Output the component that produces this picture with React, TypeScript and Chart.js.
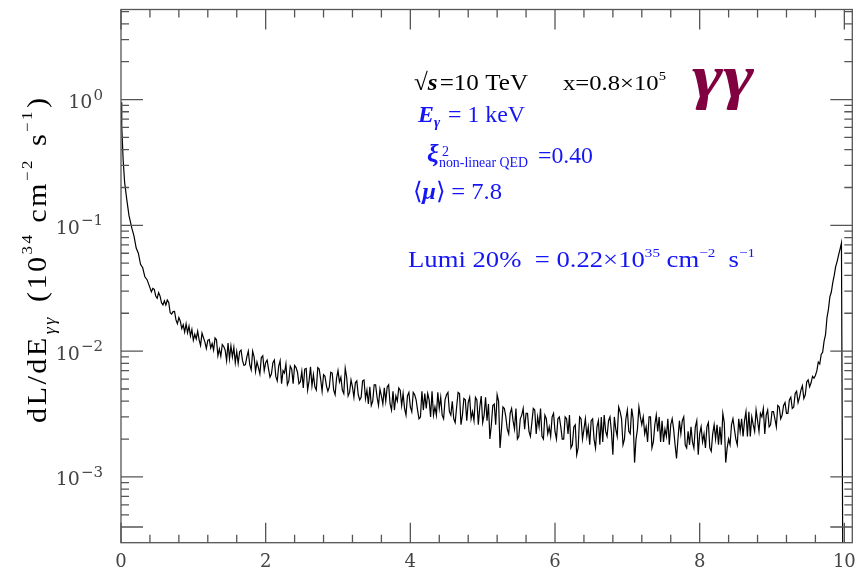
import React, { useEffect, useRef } from "react";
import { Chart, registerables } from "chart.js";

Chart.register(...registerables);

// Photon energy E_gamma-gamma (x axis) — bin positions
const photonEnergy = [
  0, 0.01, 0.02, 0.03, 0.05, 0.08, 0.11, 0.15, 0.18, 0.21, 0.24, 0.27, 0.30, 0.33, 0.36, 0.40,
  0.42, 0.44, 0.46, 0.48, 0.50, 0.52, 0.54, 0.56, 0.58, 0.60, 0.62, 0.64, 0.66, 0.68, 0.70, 0.72, 0.74, 0.76, 0.78, 0.80,
  0.82, 0.84, 0.86, 0.88, 0.90, 0.92, 0.94, 0.96, 0.98, 1.00, 1.02, 1.04, 1.06, 1.08, 1.10, 1.12, 1.14, 1.16, 1.18, 1.20,
  1.22, 1.24, 1.26, 1.28, 1.30, 1.32, 1.34, 1.36, 1.38, 1.40, 1.42, 1.44, 1.46, 1.48, 1.50, 1.52, 1.54, 1.56, 1.58, 1.60,
  1.62, 1.64, 1.66, 1.68, 1.70, 1.72, 1.74, 1.76, 1.78, 1.80, 1.82, 1.84, 1.86, 1.88, 1.90, 1.92, 1.94, 1.96, 1.98, 2.00,
  2.02, 2.04, 2.06, 2.08, 2.10, 2.12, 2.14, 2.16, 2.18, 2.20, 2.22, 2.24, 2.26, 2.28, 2.30, 2.32, 2.34, 2.36, 2.38, 2.40,
  2.42, 2.44, 2.46, 2.48, 2.50, 2.52, 2.54, 2.56, 2.58, 2.60, 2.62, 2.64, 2.66, 2.68, 2.70, 2.72, 2.74, 2.76, 2.78, 2.80,
  2.82, 2.84, 2.86, 2.88, 2.90, 2.92, 2.94, 2.96, 2.98, 3.00, 3.02, 3.04, 3.06, 3.08, 3.10, 3.12, 3.14, 3.16, 3.18, 3.20,
  3.22, 3.24, 3.26, 3.28, 3.30, 3.32, 3.34, 3.36, 3.38, 3.40, 3.42, 3.44, 3.46, 3.48, 3.50, 3.52, 3.54, 3.56, 3.58, 3.60,
  3.62, 3.64, 3.66, 3.68, 3.70, 3.72, 3.74, 3.76, 3.78, 3.80, 3.82, 3.84, 3.86, 3.88, 3.90, 3.92, 3.94, 3.96, 3.98, 4.00,
  4.02, 4.04, 4.06, 4.08, 4.10, 4.12, 4.14, 4.16, 4.18, 4.20, 4.22, 4.24, 4.26, 4.28, 4.30, 4.32, 4.34, 4.36, 4.38, 4.40,
  4.42, 4.44, 4.46, 4.48, 4.50, 4.52, 4.54, 4.56, 4.58, 4.60, 4.62, 4.64, 4.66, 4.68, 4.70, 4.72, 4.74, 4.76, 4.78, 4.80,
  4.82, 4.84, 4.86, 4.88, 4.90, 4.92, 4.94, 4.96, 4.98, 5.00, 5.02, 5.04, 5.06, 5.08, 5.10, 5.12, 5.14, 5.16, 5.18, 5.20,
  5.22, 5.24, 5.26, 5.28, 5.30, 5.32, 5.34, 5.36, 5.38, 5.40, 5.42, 5.44, 5.46, 5.48, 5.50, 5.52, 5.54, 5.56, 5.58, 5.60,
  5.62, 5.64, 5.66, 5.68, 5.70, 5.72, 5.74, 5.76, 5.78, 5.80, 5.82, 5.84, 5.86, 5.88, 5.90, 5.92, 5.94, 5.96, 5.98, 6.00,
  6.02, 6.04, 6.06, 6.08, 6.10, 6.12, 6.14, 6.16, 6.18, 6.20, 6.22, 6.24, 6.26, 6.28, 6.30, 6.32, 6.34, 6.36, 6.38, 6.40,
  6.42, 6.44, 6.46, 6.48, 6.50, 6.52, 6.54, 6.56, 6.58, 6.60, 6.62, 6.64, 6.66, 6.68, 6.70, 6.72, 6.74, 6.76, 6.78, 6.80,
  6.82, 6.84, 6.86, 6.88, 6.90, 6.92, 6.94, 6.96, 6.98, 7.00, 7.02, 7.04, 7.06, 7.08, 7.10, 7.12, 7.14, 7.16, 7.18, 7.20,
  7.22, 7.24, 7.26, 7.28, 7.30, 7.32, 7.34, 7.36, 7.38, 7.40, 7.42, 7.44, 7.46, 7.48, 7.50, 7.52, 7.54, 7.56, 7.58, 7.60,
  7.62, 7.64, 7.66, 7.68, 7.70, 7.72, 7.74, 7.76, 7.78, 7.80, 7.82, 7.84, 7.86, 7.88, 7.90, 7.92, 7.94, 7.96, 7.98, 8.00,
  8.02, 8.04, 8.06, 8.08, 8.10, 8.12, 8.14, 8.16, 8.18, 8.20, 8.22, 8.24, 8.26, 8.28, 8.30, 8.32, 8.34, 8.36, 8.38, 8.40,
  8.42, 8.44, 8.46, 8.48, 8.50, 8.52, 8.54, 8.56, 8.58, 8.60, 8.62, 8.64, 8.66, 8.68, 8.70, 8.72, 8.74, 8.76, 8.78, 8.80,
  8.82, 8.84, 8.86, 8.88, 8.90, 8.92, 8.94, 8.96, 8.98, 9.00, 9.02, 9.04, 9.06, 9.08, 9.10, 9.12, 9.14, 9.16, 9.18, 9.20,
  9.22, 9.24, 9.26, 9.28, 9.30, 9.32, 9.34, 9.36, 9.38, 9.40, 9.42, 9.44, 9.46, 9.48, 9.50, 9.52, 9.54, 9.56, 9.58, 9.60,
  9.62, 9.64, 9.66, 9.68, 9.70, 9.72, 9.74, 9.76, 9.78, 9.80, 9.82, 9.84, 9.86, 9.88, 9.90, 9.92, 9.94, 9.96,
  9.995,
];

// dL/dE (10^34 cm^-2 s^-1)
const luminosity = [
  0.95, 0.62, 0.45, 0.33, 0.22, 0.16, 0.12, 0.095, 0.082, 0.066, 0.060, 0.049, 0.046, 0.039, 0.037, 0.032,
  0.0296, 0.0315, 0.0310, 0.0274, 0.0263, 0.0292, 0.0274, 0.0242, 0.0233, 0.0251, 0.0233, 0.0255, 0.0244, 0.0202, 0.0197, 0.0206, 0.0207, 0.0177, 0.0165, 0.0185,
  0.0173, 0.0151, 0.0162, 0.0142, 0.0165, 0.0140, 0.0158, 0.0132, 0.0149, 0.0122, 0.0136, 0.0125, 0.0144, 0.0123, 0.0111, 0.0139, 0.0128, 0.0118, 0.0105, 0.0122,
  0.0124, 0.0106, 0.0115, 0.0102, 0.0127, 0.0123, 0.0092, 0.0104, 0.0091, 0.0113, 0.0109, 0.0102, 0.0084, 0.0116, 0.0087, 0.0110, 0.0090, 0.0107, 0.0081, 0.0099,
  0.0080, 0.0099, 0.0102, 0.0084, 0.0077, 0.0078, 0.0090, 0.0100, 0.0078, 0.0071, 0.0100, 0.0090, 0.0069, 0.0082, 0.0074, 0.0066, 0.0089, 0.0092, 0.0070, 0.0081,
  0.0085, 0.0072, 0.0062, 0.0066, 0.0081, 0.0085, 0.0063, 0.0058, 0.0076, 0.0084, 0.0055, 0.0070, 0.0067, 0.0079, 0.0054, 0.0058, 0.0076, 0.0072, 0.0055, 0.0077,
  0.0074, 0.0068, 0.0055, 0.0057, 0.0069, 0.0051, 0.0072, 0.0073, 0.0049, 0.0058, 0.0075, 0.0053, 0.0065, 0.0052, 0.0049, 0.0074, 0.0072, 0.0060, 0.0048, 0.0065,
  0.0063, 0.0053, 0.0048, 0.0052, 0.0068, 0.0067, 0.0049, 0.0045, 0.0061, 0.0070, 0.0057, 0.0062, 0.0049, 0.0046, 0.0073, 0.0062, 0.0044, 0.0047, 0.0059, 0.0052,
  0.0043, 0.0056, 0.0058, 0.0045, 0.0041, 0.0043, 0.0058, 0.0059, 0.0042, 0.0049, 0.0038, 0.0052, 0.0037, 0.0040, 0.0054, 0.0054, 0.0043, 0.0037, 0.0050, 0.0044,
  0.0038, 0.0051, 0.0040, 0.0052, 0.0054, 0.0038, 0.0034, 0.0048, 0.0034, 0.0044, 0.0040, 0.0051, 0.0049, 0.0037, 0.0046, 0.0035, 0.0031, 0.0044, 0.0047, 0.0036,
  0.0033, 0.0047, 0.0045, 0.0041, 0.0034, 0.0029, 0.0030, 0.0048, 0.0034, 0.0046, 0.0035, 0.0046, 0.0041, 0.0030, 0.0048, 0.0031, 0.0036, 0.0031, 0.0047, 0.0035,
  0.0043, 0.0031, 0.0029, 0.0041, 0.0045, 0.0047, 0.0033, 0.0031, 0.0040, 0.0029, 0.0027, 0.0036, 0.0047, 0.0046, 0.0026, 0.0031, 0.0042, 0.0041, 0.0028, 0.0039,
  0.0043, 0.0029, 0.0033, 0.0028, 0.0043, 0.0041, 0.0026, 0.0036, 0.0044, 0.0027, 0.0031, 0.0043, 0.0028, 0.0038, 0.0020, 0.0026, 0.0037, 0.0038, 0.0026, 0.0045,
  0.0040, 0.0017, 0.0024, 0.0036, 0.0035, 0.0030, 0.0024, 0.0022, 0.0032, 0.0035, 0.0028, 0.0024, 0.0035, 0.0020, 0.0021, 0.0029, 0.0031, 0.0035, 0.0024, 0.0032,
  0.0032, 0.0023, 0.0021, 0.0027, 0.0035, 0.0034, 0.0022, 0.0030, 0.0025, 0.0035, 0.0021, 0.0020, 0.0031, 0.0029, 0.0022, 0.0025, 0.0021, 0.0030, 0.0032, 0.0023,
  0.0020, 0.0029, 0.0030, 0.0025, 0.0020, 0.0020, 0.0030, 0.0029, 0.0022, 0.0031, 0.0017, 0.0018, 0.0025, 0.0026, 0.0015, 0.0017, 0.0030, 0.0029, 0.0020, 0.0024,
  0.0029, 0.0021, 0.0025, 0.0018, 0.0028, 0.0029, 0.0020, 0.0017, 0.0025, 0.0028, 0.0018, 0.0030, 0.0019, 0.0031, 0.0023, 0.0021, 0.0028, 0.0030, 0.0023, 0.0015,
  0.0030, 0.0024, 0.0021, 0.0036, 0.0033, 0.0029, 0.0018, 0.0020, 0.0029, 0.0034, 0.0023, 0.0022, 0.0035, 0.0029, 0.0013, 0.0020, 0.0024, 0.0036, 0.0030, 0.0026,
  0.0030, 0.0022, 0.0025, 0.0019, 0.0030, 0.0030, 0.0017, 0.0019, 0.0026, 0.0031, 0.0023, 0.0030, 0.0019, 0.0028, 0.0019, 0.0024, 0.0021, 0.0029, 0.0018, 0.0026,
  0.0029, 0.0024, 0.0018, 0.0014, 0.0020, 0.0028, 0.0022, 0.0028, 0.0030, 0.0018, 0.0017, 0.0023, 0.0018, 0.0025, 0.0019, 0.0017, 0.0025, 0.0028, 0.0015, 0.0022,
  0.0025, 0.0019, 0.0022, 0.0017, 0.0025, 0.0027, 0.0017, 0.0016, 0.0022, 0.0026, 0.0020, 0.0026, 0.0018, 0.0025, 0.0018, 0.0032, 0.0027, 0.0013, 0.0017, 0.0020,
  0.0018, 0.0026, 0.0029, 0.0024, 0.0020, 0.0018, 0.0029, 0.0023, 0.0029, 0.0021, 0.0028, 0.0033, 0.0021, 0.0033, 0.0021, 0.0030, 0.0026, 0.0023, 0.0034, 0.0028,
  0.0023, 0.0032, 0.0030, 0.0035, 0.0022, 0.0031, 0.0034, 0.0025, 0.0026, 0.0033, 0.0033, 0.0029, 0.0025, 0.0037, 0.0036, 0.0029, 0.0031, 0.0037, 0.0039, 0.0032,
  0.0032, 0.0041, 0.0043, 0.0035, 0.0036, 0.0046, 0.0048, 0.0039, 0.0043, 0.0049, 0.0053, 0.0042, 0.0045, 0.0057, 0.0059, 0.0052, 0.0056, 0.0063, 0.0061, 0.0064,
  0.0070, 0.0082, 0.0079, 0.0094, 0.0098, 0.0120, 0.0135, 0.0185, 0.0215, 0.0270, 0.0295, 0.0350, 0.0400, 0.0470, 0.0515, 0.0580, 0.0645, 0.0725,
  0.000001,
];

// Axis ticks
const xMajorTicks = [0, 2, 4, 6, 8, 10];
const xTickLabels = ["0", "2", "4", "6", "8", "10"];
const xMinorStep = 0.4;
const yDecadeExponents = [0, -1, -2, -3];
const yTickExponentLabels = ["0", "\u22121", "\u22122", "\u22123"];
const yLongTickValues = [1, 0.1, 0.01, 0.001, 0.0004];

const X_MIN = 0;
const X_MAX = 10.11;
const Y_MIN = 3.38e-4;
const Y_MAX = 5.2;

const SERIF = '"Liberation Serif", "Times New Roman", serif';
const TICKFONT = '"DejaVu Serif", serif';
const BLUE = "#1515f5";
const FRAME = "#555555";

type Seg = { t: string; f: string; c?: string; dy?: number; dx?: number };

function segsWidth(ctx: CanvasRenderingContext2D, segs: Seg[]) {
  let w = 0;
  for (const s of segs) {
    ctx.font = s.f;
    w += ctx.measureText(s.t).width + (s.dx || 0);
  }
  return w;
}

// Draws rich text; if targetWidth is given, the text is stretched (up to maxScale)
// and any remaining width is spread between the characters.
function drawSegs(
  ctx: CanvasRenderingContext2D,
  x: number,
  y: number,
  segs: Seg[],
  color: string,
  targetWidth?: number,
  maxScale = 1.3
) {
  ctx.save();
  ctx.translate(x, y);
  let spacing = 0;
  if (targetWidth) {
    const w = segsWidth(ctx, segs);
    const s = Math.min(targetWidth / w, maxScale);
    ctx.scale(s, 1);
    const nChars = segs.reduce((n, sg) => n + Array.from(sg.t).length, 0);
    if (nChars > 1) spacing = Math.max(0, (targetWidth / s - w) / (nChars - 1));
  }
  ctx.textBaseline = "alphabetic";
  ctx.textAlign = "left";
  let cx = 0;
  for (const sg of segs) {
    ctx.font = sg.f;
    ctx.fillStyle = sg.c || color;
    cx += sg.dx || 0;
    if (spacing > 0) {
      for (const ch of Array.from(sg.t)) {
        ctx.fillText(ch, cx, sg.dy || 0);
        cx += ctx.measureText(ch).width + spacing;
      }
    } else {
      ctx.fillText(sg.t, cx, sg.dy || 0);
      cx += ctx.measureText(sg.t).width;
    }
  }
  ctx.restore();
}

const overlayPlugin = {
  id: "physicsOverlay",
  afterDatasetsDraw(chart: any) {
    const ctx: CanvasRenderingContext2D = chart.ctx;
    const area = chart.chartArea;
    const xs = chart.scales.x;
    const ys = chart.scales.y;
    ctx.save();

    // Frame
    ctx.strokeStyle = FRAME;
    ctx.lineWidth = 1.3;
    ctx.strokeRect(area.left, area.top, area.right - area.left, area.bottom - area.top);

    // X ticks (bottom and top, pointing inwards)
    ctx.beginPath();
    for (let k = 0; k * xMinorStep <= X_MAX + 1e-9; k++) {
      const v = k * xMinorStep;
      const isMajor = xMajorTicks.some((m) => Math.abs(m - v) < 1e-6);
      const len = isMajor ? 20 : 8;
      const px = xs.getPixelForValue(v);
      ctx.moveTo(px, area.bottom);
      ctx.lineTo(px, area.bottom - len);
      ctx.moveTo(px, area.top);
      ctx.lineTo(px, area.top + len);
    }
    // Y ticks (left and right)
    for (let e = -4; e <= 0; e++) {
      for (let m = 1; m <= 9; m++) {
        const v = m * Math.pow(10, e);
        if (v < Y_MIN || v > Y_MAX) continue;
        const isLong = yLongTickValues.some((t) => Math.abs(t - v) / t < 1e-6);
        const len = isLong ? 22 : 8;
        const py = ys.getPixelForValue(v);
        ctx.moveTo(area.left, py);
        ctx.lineTo(area.left + len, py);
        ctx.moveTo(area.right, py);
        ctx.lineTo(area.right - len, py);
      }
    }
    ctx.stroke();

    // X tick labels
    ctx.fillStyle = "#444";
    ctx.font = "18px " + TICKFONT;
    ctx.textAlign = "center";
    ctx.textBaseline = "alphabetic";
    xMajorTicks.forEach((v, i) => {
      ctx.fillText(xTickLabels[i], xs.getPixelForValue(v), 567);
    });

    // Y tick labels 10^n
    yDecadeExponents.forEach((e, i) => {
      const py = ys.getPixelForValue(Math.pow(10, e));
      const segs: Seg[] = [
        { t: "10", f: "19px " + TICKFONT, dy: 8.5 },
        { t: yTickExponentLabels[i], f: "15px " + TICKFONT, dy: 0, dx: 1 },
      ];
      const w = segsWidth(ctx, segs);
      drawSegs(ctx, 103 - w, py, segs, "#444");
    });

    // Y axis title (rotated)
    ctx.save();
    ctx.translate(46, 423);
    ctx.rotate(-Math.PI / 2);
    drawSegs(
      ctx,
      0,
      0,
      [
        { t: "dL/dE", f: "27px " + SERIF },
        { t: "\u03b3\u03b3", f: "italic 16px " + SERIF, dy: 9, dx: 1 },
        { t: " (10", f: "27px " + SERIF, dx: 3 },
        { t: "34", f: "15px " + SERIF, dy: -14 },
        { t: " cm", f: "27px " + SERIF },
        { t: "\u22122", f: "15px " + SERIF, dy: -14 },
        { t: " s", f: "27px " + SERIF, dx: 2 },
        { t: "\u22121", f: "15px " + SERIF, dy: -14 },
        { t: ")", f: "27px " + SERIF, dx: 1 },
      ],
      "#000",
      325,
      1.12
    );
    ctx.restore();

    // Annotations
    drawSegs(
      ctx,
      414,
      90,
      [
        { t: "\u221a", f: "24px " + SERIF },
        { t: "s", f: "italic bold 24px " + SERIF },
        { t: "=10 TeV", f: "24px " + SERIF, dx: 2 },
      ],
      "#000",
      114
    );
    drawSegs(
      ctx,
      563,
      90,
      [
        { t: "x=0.8\u00d710", f: "22px " + SERIF },
        { t: "5", f: "13px " + SERIF, dy: -10 },
      ],
      "#000",
      103
    );
    drawSegs(
      ctx,
      692,
      97,
      [{ t: "\u03b3\u03b3", f: "italic bold 62px " + SERIF }],
      "#800040",
      62
    );
    drawSegs(
      ctx,
      418,
      122,
      [
        { t: "E", f: "italic bold 24px " + SERIF },
        { t: "\u03b3", f: "italic bold 15px " + SERIF, dy: 5 },
        { t: " = 1 keV", f: "24px " + SERIF, dx: 2 },
      ],
      BLUE,
      107
    );
    drawSegs(ctx, 427, 162, [{ t: "\u03be", f: "italic bold 26px " + SERIF }], BLUE);
    drawSegs(ctx, 442, 156, [{ t: "2", f: "14px " + SERIF }], BLUE);
    drawSegs(ctx, 439, 167, [{ t: "non-linear QED", f: "14px " + SERIF }], BLUE, 89);
    drawSegs(ctx, 538, 163, [{ t: "=0.40", f: "24px " + SERIF }], BLUE, 55);
    drawSegs(
      ctx,
      413,
      199,
      [
        { t: "\u27e8", f: "24px " + SERIF },
        { t: "\u03bc", f: "italic bold 24px " + SERIF },
        { t: "\u27e9 = 7.8", f: "24px " + SERIF },
      ],
      BLUE,
      89
    );
    drawSegs(
      ctx,
      408,
      267,
      [
        { t: "Lumi 20%  = 0.22\u00d710", f: "23px " + SERIF },
        { t: "35", f: "13px " + SERIF, dy: -10 },
        { t: " cm", f: "23px " + SERIF },
        { t: "\u22122", f: "13px " + SERIF, dy: -10 },
        { t: "  s", f: "23px " + SERIF },
        { t: "\u22121", f: "13px " + SERIF, dy: -10 },
      ],
      BLUE,
      347
    );

    ctx.restore();
  },
};

export default function App() {
  const canvasRef = useRef<HTMLCanvasElement | null>(null);

  useEffect(() => {
    const canvas = canvasRef.current;
    if (!canvas) return;
    const points = photonEnergy.map((x, i) => ({ x, y: luminosity[i] }));
    const chart = new Chart(canvas, {
      type: "line",
      data: {
        datasets: [
          {
            data: points,
            borderColor: "#000000",
            borderWidth: 1.2,
            pointRadius: 0,
            tension: 0,
            fill: false,
          },
        ],
      },
      options: {
        animation: false,
        responsive: false,
        devicePixelRatio: 1,
        events: [],
        layout: { padding: { left: 121, right: 6.7, top: 9.5, bottom: 30.3 } },
        scales: {
          x: { type: "linear", min: X_MIN, max: X_MAX, display: false },
          y: { type: "logarithmic", min: Y_MIN, max: Y_MAX, display: false },
        },
        plugins: {
          legend: { display: false },
          tooltip: { enabled: false },
        },
      },
      plugins: [overlayPlugin],
    } as any);
    return () => chart.destroy();
  }, []);

  return (
    <div style={{ position: "absolute", left: 0, top: 0, width: 859, height: 573, background: "#fff" }}>
      <canvas ref={canvasRef} width={859} height={573} style={{ display: "block" }} />
    </div>
  );
}
